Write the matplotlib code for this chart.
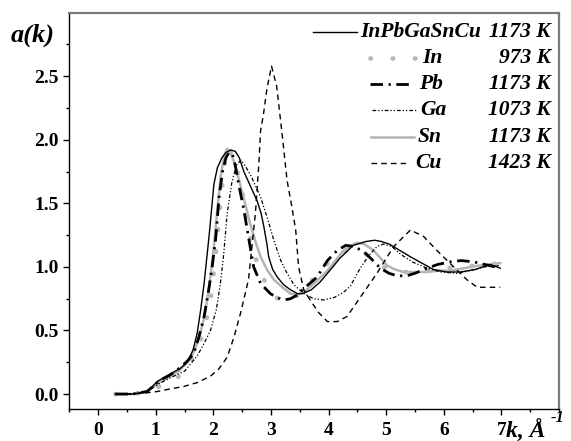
import matplotlib
matplotlib.use('Agg')
import matplotlib.pyplot as plt
from matplotlib.lines import Line2D
from matplotlib.ticker import FixedLocator, FormatStrFormatter

plt.rcParams['font.family'] = ['Liberation Serif', 'DejaVu Serif']

# ---------------- data ----------------
k_all = [0.30,0.60,0.85,1.03,1.26,1.42,1.55,1.65,1.72,1.78,1.84,1.93,2.01,2.07,2.15,2.22,2.30,2.38,2.45,2.53,2.65,2.76,2.83,2.88,2.93,2.96,3.03,3.11,3.22,3.34,3.46,3.55,3.70,3.85,4.00,4.20,4.43,4.65,4.80,4.92,5.05,5.20,5.42,5.62,5.82,6.05,6.29,6.55,6.80,6.98]
a_all = [0.00,0.00,0.02,0.10,0.16,0.20,0.25,0.35,0.48,0.66,0.87,1.26,1.65,1.78,1.86,1.90,1.92,1.91,1.86,1.75,1.63,1.52,1.42,1.31,1.18,1.08,0.98,0.92,0.86,0.82,0.79,0.79,0.82,0.88,0.96,1.07,1.17,1.20,1.21,1.20,1.18,1.14,1.08,1.03,0.98,0.96,0.96,0.98,1.02,0.99]

k_in = [0.30,0.60,0.85,1.06,1.25,1.38,1.55,1.66,1.75,1.87,1.95,2.04,2.12,2.18,2.23,2.28,2.34,2.40,2.47,2.59,2.70,2.80,2.90,3.00,3.17,3.35,3.50,3.62,3.75,3.90,4.05,4.20,4.35,4.50,4.65,4.80,4.95,5.10,5.25,5.45,5.65,5.85,6.05,6.30,6.55,6.80,6.98]
a_in = [0.00,0.00,0.02,0.06,0.09,0.13,0.22,0.30,0.38,0.56,0.74,1.08,1.50,1.75,1.94,1.92,1.86,1.78,1.67,1.34,1.12,0.98,0.88,0.80,0.73,0.74,0.79,0.85,0.91,0.99,1.06,1.11,1.13,1.13,1.10,1.05,1.00,0.97,0.96,0.96,0.97,0.98,0.99,1.00,1.01,1.02,1.03]

k_pb = [0.30,0.60,0.85,1.08,1.25,1.43,1.55,1.66,1.75,1.84,1.92,1.98,2.04,2.10,2.16,2.22,2.27,2.33,2.38,2.44,2.53,2.62,2.70,2.82,2.99,3.10,3.22,3.34,3.46,3.57,3.70,3.80,3.98,4.15,4.30,4.45,4.61,4.75,4.90,5.05,5.19,5.35,5.50,5.71,5.90,6.11,6.30,6.52,6.80,6.98]
a_pb = [0.00,0.00,0.02,0.11,0.15,0.21,0.26,0.32,0.45,0.61,0.82,1.00,1.22,1.55,1.75,1.86,1.90,1.89,1.80,1.65,1.45,1.21,1.00,0.87,0.79,0.76,0.74,0.75,0.78,0.83,0.88,0.92,1.05,1.13,1.17,1.16,1.12,1.06,0.99,0.95,0.93,0.93,0.95,0.99,1.02,1.04,1.05,1.04,1.01,0.99]

k_ga = [0.30,0.60,0.85,1.05,1.31,1.50,1.61,1.72,1.83,1.95,2.05,2.12,2.18,2.24,2.32,2.40,2.48,2.56,2.65,2.74,2.82,2.94,3.05,3.17,3.28,3.40,3.57,3.74,3.92,4.10,4.26,4.38,4.55,4.70,4.84,4.95,5.10,5.25,5.45,5.71,5.95,6.23,6.45,6.70,6.98]
a_ga = [0.00,0.00,0.02,0.08,0.14,0.18,0.24,0.30,0.39,0.50,0.66,0.86,1.10,1.42,1.66,1.80,1.84,1.79,1.72,1.63,1.55,1.38,1.21,1.05,0.95,0.86,0.79,0.75,0.74,0.76,0.80,0.85,0.99,1.09,1.16,1.18,1.16,1.10,1.04,0.99,0.96,0.95,0.97,1.00,1.01]

k_sn = [0.30,0.60,0.85,1.05,1.25,1.40,1.55,1.66,1.76,1.85,1.93,2.00,2.07,2.13,2.19,2.24,2.30,2.38,2.46,2.55,2.64,2.73,2.82,2.93,3.05,3.20,3.34,3.45,3.57,3.75,3.98,4.12,4.26,4.40,4.50,4.62,4.78,4.90,5.02,5.15,5.30,5.50,5.70,5.90,6.11,6.35,6.60,6.80,6.98]
a_sn = [0.00,0.00,0.02,0.09,0.14,0.18,0.25,0.33,0.45,0.62,0.85,1.12,1.45,1.72,1.88,1.93,1.90,1.80,1.66,1.50,1.34,1.20,1.08,0.98,0.90,0.84,0.79,0.78,0.80,0.87,0.97,1.05,1.13,1.17,1.19,1.18,1.13,1.07,1.01,0.98,0.96,0.96,0.96,0.97,0.97,0.99,1.01,1.02,1.03]

k_cu = [0.31,0.60,0.85,1.03,1.25,1.49,1.72,1.95,2.10,2.24,2.36,2.48,2.61,2.73,2.79,2.82,2.87,2.93,3.01,3.10,3.20,3.28,3.36,3.43,3.48,3.57,3.68,3.83,3.98,4.15,4.32,4.55,4.84,5.13,5.42,5.65,5.88,6.15,6.40,6.58,6.80,6.98]
a_cu = [0.00,0.00,0.01,0.02,0.04,0.06,0.09,0.14,0.20,0.29,0.45,0.65,0.90,1.42,1.81,2.07,2.20,2.40,2.58,2.42,2.02,1.68,1.48,1.29,1.00,0.82,0.74,0.64,0.57,0.57,0.61,0.76,0.95,1.16,1.29,1.24,1.13,1.01,0.90,0.84,0.84,0.84]

names = ['InPbGaSnCu', 'In', 'Pb', 'Ga', 'Sn', 'Cu']
temps = ['1173 K', '973 K', '1173 K', '1073 K', '1173 K', '1423 K']

# ---------------- styles ----------------
W, H = 571, 441
st_all = dict(color='black', lw=1.0, linestyle='-')
st_in = dict(color='#b8b8b8', lw=3.4, linestyle=(0, (0.1, 4.6)), dash_capstyle='round')
st_pb = dict(color='black', lw=2.0, linestyle=(0, (4.5, 2, 0.8, 2)))
st_ga = dict(color='black', lw=0.9, linestyle=(0, (3, 1.6, 1, 1.6, 1, 1.6)))
st_sn = dict(color='#b4b4b4', lw=1.8, linestyle='-')
st_cu = dict(color='black', lw=1.0, linestyle=(0, (4, 3)))

fig = plt.figure(figsize=(W / 100, H / 100), dpi=100)
ax = fig.add_axes([69.3 / W, 1 - 409.3 / H, (559 - 69.3) / W, (409.3 - 12.7) / H])

ax.plot(k_sn, a_sn, **st_sn)
ax.plot(k_in, a_in, **st_in)
ax.plot(k_cu, a_cu, **st_cu)
ax.plot(k_ga, a_ga, **st_ga)
ax.plot(k_all, a_all, **st_all)
ax.plot(k_pb, a_pb, **st_pb)

ax.set_xlim(-0.5, 8.0)
ax.set_ylim(-0.12, 3.0)

ax.xaxis.set_major_locator(FixedLocator([0, 1, 2, 3, 4, 5, 6, 7]))
ax.xaxis.set_minor_locator(FixedLocator([-0.5 + 0.5 * i for i in range(18)]))
ax.yaxis.set_major_locator(FixedLocator([0, 0.5, 1.0, 1.5, 2.0, 2.5]))
ax.yaxis.set_minor_locator(FixedLocator([0.25 * i for i in range(12)]))
ax.yaxis.set_major_formatter(FormatStrFormatter('%.1f'))

ax.tick_params(axis='both', which='major', direction='out', length=4.5, width=1,
               labelsize=14)
ax.tick_params(axis='both', which='minor', direction='out', length=2.5, width=1)
ax.tick_params(axis='x', which='major', pad=5)
ax.tick_params(axis='y', which='major', pad=3)
for lab in ax.get_xticklabels() + ax.get_yticklabels():
    lab.set_fontweight('bold')

for s in ['left', 'bottom']:
    ax.spines[s].set_color('black')
    ax.spines[s].set_linewidth(1.0)
for s in ['top', 'right']:
    ax.spines[s].set_color('#7a7a7a')
    ax.spines[s].set_linewidth(1.6)

# axis labels
fig.text(33 / W, 1 - 35 / H, 'a(k)', ha='center', va='center', fontsize=19,
         fontweight='bold', fontstyle='italic')
fig.text(506 / W, 1 - 431 / H, 'k, Å', ha='left', va='center', fontsize=17,
         fontweight='bold', fontstyle='italic')
fig.text(551 / W, 1 - 418 / H, '-1', ha='left', va='center', fontsize=12,
         fontweight='bold', fontstyle='italic')

# legend (manual)
rows_y = [32, 58, 84, 110, 137, 163]
handles_x = [(313, 357), (370, 420), (370, 410), (372, 416), (371, 414), (371, 410)]
names_x = [360, 422, 419, 420, 418, 415]
styles = [st_all, st_in, st_pb, st_ga, st_sn, st_cu]
for y, (x0, x1), nx, st, nm, tp in zip(rows_y, handles_x, names_x, styles, names, temps):
    fig.add_artist(Line2D([x0 / W, x1 / W], [1 - y / H, 1 - y / H],
                          transform=fig.transFigure, **st))
    fig.text(nx / W, 1 - y / H, nm, ha='left', va='center', fontsize=15.5,
             fontweight='bold', fontstyle='italic')
    fig.text(551 / W, 1 - y / H, tp, ha='right', va='center', fontsize=15.5,
             fontweight='bold', fontstyle='italic')

fig.savefig('out.png', dpi=100)
